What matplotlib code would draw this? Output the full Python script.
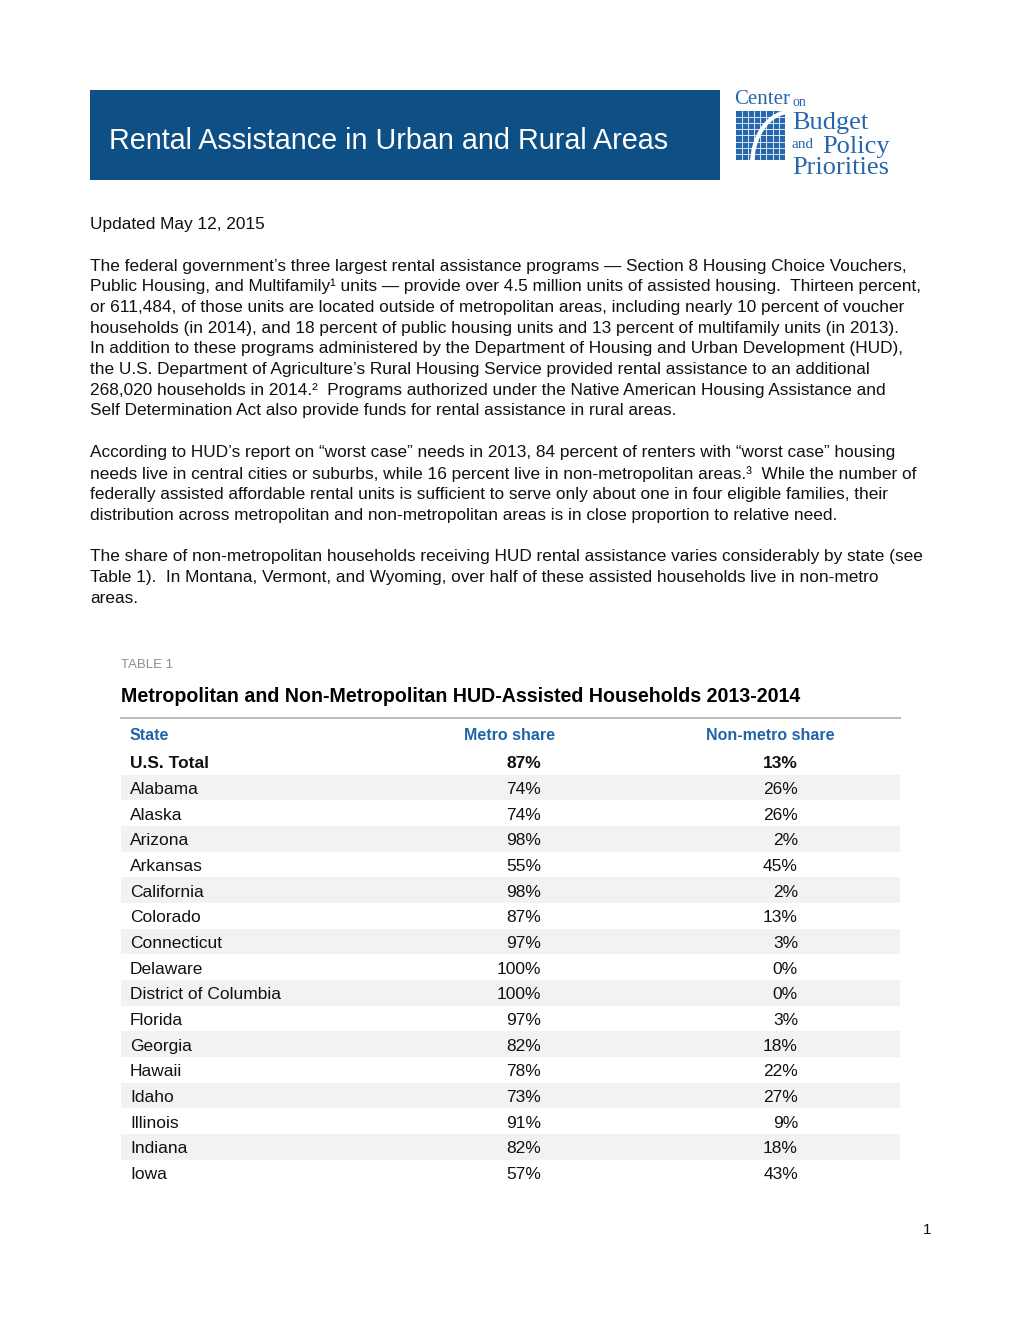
import matplotlib
matplotlib.use("Agg")
import matplotlib.pyplot as plt
from matplotlib import font_manager
from matplotlib.patches import Rectangle, Arc

# fuente estrecha si existe, si no Liberation Sans
nombres = {f.name for f in font_manager.fontManager.ttflist}
if "Liberation Sans Narrow" in nombres:
    fuente = "Liberation Sans Narrow"
else:
    fuente = "Liberation Sans"
serif = "Liberation Serif"

titulo = "Rental Assistance in Urban and Rural Areas"
fecha = "Updated May 12, 2015"

parrafo1 = [
    "The federal government\u2019s three largest rental assistance programs \u2014 Section 8 Housing Choice Vouchers,",
    "Public Housing, and Multifamily\u00b9 units \u2014 provide over 4.5 million units of assisted housing.  Thirteen percent,",
    "or 611,484, of those units are located outside of metropolitan areas, including nearly 10 percent of voucher",
    "households (in 2014), and 18 percent of public housing units and 13 percent of multifamily units (in 2013).",
    "In addition to these programs administered by the Department of Housing and Urban Development (HUD),",
    "the U.S. Department of Agriculture\u2019s Rural Housing Service provided rental assistance to an additional",
    "268,020 households in 2014.\u00b2  Programs authorized under the Native American Housing Assistance and",
    "Self Determination Act also provide funds for rental assistance in rural areas.",
]
parrafo2 = [
    "According to HUD\u2019s report on \u201cworst case\u201d needs in 2013, 84 percent of renters with \u201cworst case\u201d housing",
    "needs live in central cities or suburbs, while 16 percent live in non-metropolitan areas.\u00b3  While the number of",
    "federally assisted affordable rental units is sufficient to serve only about one in four eligible families, their",
    "distribution across metropolitan and non-metropolitan areas is in close proportion to relative need.",
]
parrafo3 = [
    "The share of non-metropolitan households receiving HUD rental assistance varies considerably by state (see",
    "Table 1).  In Montana, Vermont, and Wyoming, over half of these assisted households live in non-metro",
    "areas.",
]

tabla_etiqueta = "TABLE 1"
tabla_titulo = "Metropolitan and Non-Metropolitan HUD-Assisted Households 2013-2014"
columnas = ["State", "Metro share", "Non-metro share"]

estados = ["U.S. Total", "Alabama", "Alaska", "Arizona", "Arkansas", "California",
           "Colorado", "Connecticut", "Delaware", "District of Columbia", "Florida",
           "Georgia", "Hawaii", "Idaho", "Illinois", "Indiana", "Iowa"]
metro = [87, 74, 74, 98, 55, 98, 87, 97, 100, 100, 97, 82, 78, 73, 91, 82, 57]
no_metro = [13, 26, 26, 2, 45, 2, 13, 3, 0, 0, 3, 18, 22, 27, 9, 18, 43]

azul = "#0e4f86"
azul_logo = "#2566ad"
azul_col = "#1f64a8"
dy = 2  # pequeño ajuste vertical del texto

fig = plt.figure(figsize=(10.2, 13.2), dpi=100)
ax = fig.add_axes([0, 0, 1, 1])
ax.set_xlim(0, 1020)
ax.set_ylim(1320, 0)
ax.axis("off")

# cabecera
ax.add_patch(Rectangle((90, 90), 630, 90, color=azul, lw=0))
ax.text(109, 139 + dy, titulo, color="white", fontsize=20.7, family=fuente,
        va="center", ha="left")

# logo
ax.text(734, 100, "Center", color=azul_logo, fontsize=15, family=serif, va="center")
ax.text(793, 103, "on", color=azul_logo, fontsize=10, family=serif, va="center")
ax.add_patch(Rectangle((736, 111), 49, 49, color=azul_logo, lw=0))
for k in range(1, 8):
    ax.plot([736 + k * 6.1, 736 + k * 6.1], [111, 160], color="white", lw=0.6)
    ax.plot([736, 785], [111 + k * 6.1, 111 + k * 6.1], color="white", lw=0.6)
ax.add_patch(Arc((790, 165), 76, 106, theta1=180, theta2=270, color="white", lw=3))
ax.text(792, 123, "Budget", color=azul_logo, fontsize=19, family=serif, va="center")
ax.text(792, 145, "and", color=azul_logo, fontsize=11, family=serif, va="center")
ax.text(822, 147, "Policy", color=azul_logo, fontsize=19, family=serif, va="center")
ax.text(792, 168, "Priorities", color=azul_logo, fontsize=19, family=serif, va="center")

# texto
cuerpo = dict(fontsize=12.4, family=fuente, color="#111111", va="center", ha="left")
ax.text(90, 222 + dy, fecha, **cuerpo)
for bloque, y0 in [(parrafo1, 264), (parrafo2, 451), (parrafo3, 555)]:
    for i, linea in enumerate(bloque):
        ax.text(90, y0 + dy + i * 20.7, linea, **cuerpo)

# tabla
ax.text(121, 663 + dy, tabla_etiqueta, fontsize=9.5, family=fuente, color="#8c8c8c", va="center")
ax.text(121, 694 + dy, tabla_titulo, fontsize=14.1, family=fuente, color="black",
        va="center", fontweight="bold")
ax.plot([121, 900], [718, 718], color="#bdbdbd", lw=1.5)

ax.text(130, 733 + dy, columnas[0], fontsize=11.5, family=fuente, color=azul_col,
        va="center", fontweight="bold")
ax.text(510, 733 + dy, columnas[1], fontsize=11.5, family=fuente, color=azul_col,
        va="center", ha="center", fontweight="bold")
ax.text(770, 733 + dy, columnas[2], fontsize=11.5, family=fuente, color=azul_col,
        va="center", ha="center", fontweight="bold")

paso = 25.65
for i, (est, m, n) in enumerate(zip(estados, metro, no_metro)):
    y = 762 + i * paso
    if i % 2 == 1:
        ax.add_patch(Rectangle((121, y - paso / 2), 779, paso, color="#f2f2f2", lw=0))
    peso = "bold" if i == 0 else "normal"
    ax.text(130, y + dy, est, fontsize=12.5, family=fuente, color="#111111", va="center",
            fontweight=peso)
    ax.text(541, y + dy, f"{m}%", fontsize=12.5, family=fuente, color="#111111", va="center",
            ha="right", fontweight=peso)
    ax.text(798, y + dy, f"{n}%", fontsize=12.5, family=fuente, color="#111111", va="center",
            ha="right", fontweight=peso)

ax.text(931, 1228 + dy, "1", fontsize=11, family=fuente, color="#111111", va="center", ha="right")

fig.savefig("out.png", dpi=100)
